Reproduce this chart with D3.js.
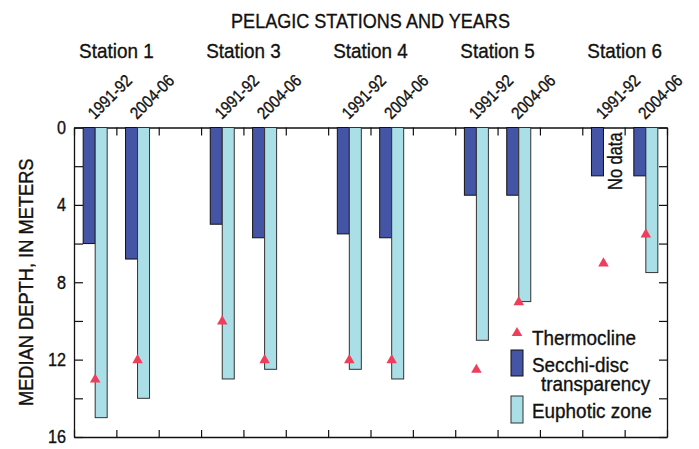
<!DOCTYPE html>
<html>
<head>
<meta charset="utf-8">
<script src="https://cdn.jsdelivr.net/npm/d3@7"></script>
<style>
  body { margin: 0; background: #fff; }
  svg text {
    font-family: "Liberation Sans", Arial, sans-serif;
    fill: #111;
    stroke: #111;
    stroke-width: 0.35px;
  }
</style>
</head>
<body>
<div id="chart"><svg width="699" height="449"></svg></div>
<script>
const stations = ["Station 1", "Station 3", "Station 4", "Station 5", "Station 6"];
const periods = ["1991-92", "2004-06"];
// one value per station/period pair, in order
const secchi = [6, 6.8, 5, 5.7, 5.5, 5.7, 3.5, 3.5, 2.5, 2.5];
const euphotic = [15, 14, 13, 12.5, 12.5, 13, 11, 9, null, 7.5];
const thermocline = [13, 12, 10, 12, 12, 12, 12.5, 9, 7, 5.5];
const yTicks = [0, 2, 4, 6, 8, 10, 12, 14, 16];
const yLabels = [0, 4, 8, 12, 16];

const plotLeft = 74;
const plotRight = 667;
const plotTop = 127.5;
const plotBottom = 437;
const nSlots = stations.length * 3 - 1; // pair + gap per station
const barW = 12;

const svg = d3.select("#chart").select("svg");

// condensed look: squeeze the glyphs horizontally
function label(x0, y0, txt, size, squeeze, rot = 0, anchor = "start") {
  return svg
    .append("text")
    .attr("transform", `translate(${x0}, ${y0}) rotate(${rot}) scale(${squeeze}, 1)`)
    .attr("font-size", size)
    .attr("text-anchor", anchor)
    .text(txt);
}

const x = d3
  .scaleBand()
  .domain(d3.range(nSlots))
  .range([plotLeft, plotRight])
  .paddingInner(0);
const xEdge = d3.scaleLinear().domain([0, nSlots]).range([plotLeft, plotRight]);
const y = d3.scaleLinear().domain([0, 16]).range([plotTop, plotBottom]);

const rows = [];
stations.forEach((s, i) => {
  periods.forEach((p, j) => {
    const k = i * 2 + j;
    rows.push({
      station: s,
      period: p,
      slot: i * 3 + j,
      secchi: secchi[k],
      euphotic: euphotic[k],
      thermo: thermocline[k],
    });
  });
});
const center = (d) => x(d.slot) + x.bandwidth() / 2;

// frame + ticks
svg
  .append("g")
  .attr("transform", `translate(0, ${plotBottom})`)
  .call(d3.axisBottom(xEdge).ticks(nSlots).tickSizeInner(-7).tickSizeOuter(0).tickFormat(""));
svg
  .append("g")
  .attr("transform", `translate(0, ${plotTop})`)
  .call(d3.axisTop(xEdge).ticks(nSlots).tickSizeInner(-8).tickSizeOuter(0).tickFormat(""));
const yAxisG = svg
  .append("g")
  .attr("transform", `translate(${plotLeft}, 0)`)
  .call(
    d3
      .axisLeft(y)
      .tickValues(yTicks)
      .tickSizeInner(-9)
      .tickSizeOuter(0)
      .tickFormat((d) => (yLabels.includes(d) ? d : ""))
  );
yAxisG.attr("font-family", null);
yAxisG
  .selectAll(".tick text")
  .attr("font-size", 18)
  .attr("x", -8 / 0.9)
  .attr("transform", "scale(0.9, 1)");
svg
  .append("g")
  .attr("transform", `translate(${plotRight}, 0)`)
  .call(d3.axisRight(y).tickValues(yTicks).tickSizeInner(-8).tickSizeOuter(0).tickFormat(""));

svg.selectAll(".domain").attr("stroke", "#111").attr("stroke-width", 1.3);
svg.selectAll(".tick line").attr("stroke", "#111").attr("stroke-width", 1.2);
svg.selectAll(".tick text").attr("fill", "#111");

// bars
svg
  .selectAll(".secchi")
  .data(rows)
  .enter()
  .append("rect")
  .attr("class", "secchi")
  .attr("x", (d) => center(d) - barW)
  .attr("y", y(0))
  .attr("width", barW)
  .attr("height", (d) => y(d.secchi) - y(0))
  .attr("fill", "#4555a5")
  .attr("stroke", "#111")
  .attr("stroke-width", 1);

svg
  .selectAll(".euph")
  .data(rows.filter((d) => d.euphotic != null))
  .enter()
  .append("rect")
  .attr("class", "euph")
  .attr("x", (d) => center(d))
  .attr("y", y(0))
  .attr("width", barW)
  .attr("height", (d) => y(d.euphotic) - y(0))
  .attr("fill", "#aadfe8")
  .attr("stroke", "#333")
  .attr("stroke-width", 1);

const tri = d3.symbol().type(d3.symbolTriangle).size(48);
svg
  .selectAll(".thermo")
  .data(rows)
  .enter()
  .append("path")
  .attr("class", "thermo")
  .attr("d", tri)
  .attr("transform", (d) => `translate(${center(d)}, ${y(d.thermo) + 0.5})`)
  .attr("fill", "#ef3d5c");

// no data note
const nd = rows.find((d) => d.euphotic == null);
label(center(nd) + 19, plotTop + 5, "No data", 20, 0.82, -90, "end");

// labels above
rows.forEach((d) => label(center(d) - 0.5, 120, d.period, 17, 0.87, -45));
stations.forEach((s, i) => label(xEdge(i * 3 + 1), 58, s, 21, 0.9, 0, "middle"));

label((plotLeft + plotRight) / 2, 28, "PELAGIC STATIONS AND YEARS", 21, 0.86, 0, "middle");
label(33, (plotTop + plotBottom) / 2, "MEDIAN DEPTH, IN METERS", 21, 0.87, -90, "middle");

// legend
const lx = 511;
const ly = 326;
svg
  .append("path")
  .attr("d", d3.symbol().type(d3.symbolTriangle).size(48))
  .attr("transform", `translate(${lx + 6}, ${ly + 7})`)
  .attr("fill", "#ef3d5c");
svg
  .append("rect")
  .attr("x", lx)
  .attr("y", ly + 24)
  .attr("width", 12)
  .attr("height", 26)
  .attr("fill", "#4555a5")
  .attr("stroke", "#111");
svg
  .append("rect")
  .attr("x", lx)
  .attr("y", ly + 70)
  .attr("width", 12)
  .attr("height", 27)
  .attr("fill", "#aadfe8")
  .attr("stroke", "#333");
label(lx + 21, ly + 19, "Thermocline", 21, 0.9);
label(lx + 21, ly + 46, "Secchi-disc", 21, 0.9);
label(lx + 30, ly + 65, "transparency", 21, 0.9);
label(lx + 21, ly + 92, "Euphotic zone", 21, 0.9);
</script>
</body>
</html>
